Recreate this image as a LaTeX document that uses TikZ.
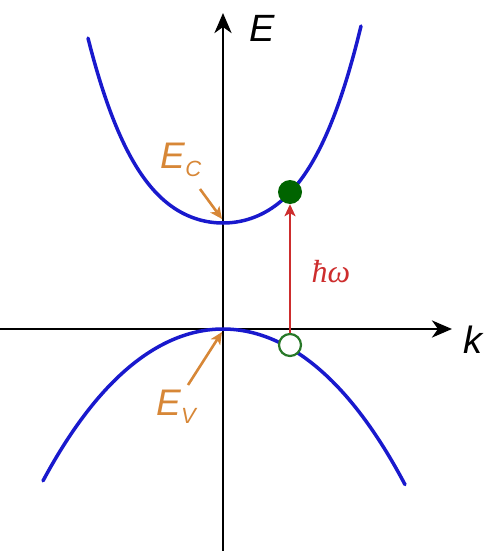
\documentclass[tikz,border=0pt]{standalone}
\usepackage{fontspec}
\setmainfont{Liberation Sans}
\newfontfamily\symfont{Liberation Serif}
\usetikzlibrary{arrows.meta}
\definecolor{bandblue}{RGB}{25,25,205}
\definecolor{lblorange}{RGB}{215,135,55}
\definecolor{photonred}{RGB}{205,45,45}
\definecolor{dkgreen}{RGB}{0,100,0}
\definecolor{ringgreen}{RGB}{40,120,40}
\begin{document}
\begin{tikzpicture}[x=1pt,y=-1pt,
  axis/.style={line width=2.9pt,-{Stealth[length=20pt,width=17pt,inset=6pt]}},
  band/.style={line width=3.5pt,bandblue,line cap=round},
  lbl/.style={font=\itshape\fontsize{38}{38}\selectfont,inner sep=0pt},
  sublbl/.style={font=\itshape\fontsize{37}{37}\selectfont,inner sep=0pt},
  pointer/.style={line width=2.6pt,lblorange,-{Stealth[length=12pt,width=11pt,inset=3pt]}},
  photon/.style={line width=2.2pt,photonred,-{Stealth[length=12pt,width=11pt,inset=3pt]}}]
\useasboundingbox (0,0) rectangle (487,551);
\coordinate (xl) at (0,329);
\coordinate (xr) at (452,329);
\coordinate (yb) at (223,551);
\coordinate (yt) at (223,13);
\draw[axis] (xl) -- (xr);
\draw[axis] (yb) -- (yt);
\node[lbl] (E) at (262,28) {E};
\node[lbl] (k) at (473,340) {k};
% bands
\draw[band] plot[domain=-135:138,samples=120,smooth]
  ({223+\x},{223-(56.6*(\x/100)^2+24.6*(\x/100)^4)});
\draw[band] plot[domain=-180:182,samples=120,smooth]
  ({223+\x},{329+(42*(\x/100)^2+1.5*(\x/100)^4)});
% carriers
\node[circle,fill=dkgreen,minimum size=24pt,inner sep=0pt] (elec) at (290,192) {};
\node[circle,draw=ringgreen,line width=2.2pt,fill=white,minimum size=22pt,inner sep=0pt] (hole) at (290,345) {};
\draw[photon] (hole.north) -- (elec.south);
\node[photonred,font=\symfont\itshape\fontsize{32}{32}\selectfont,inner sep=0pt] (hw) at (331,272) {ħω};
% labels
\node[sublbl,lblorange] (Ec) at (181,160) {E\raisebox{-8pt}{\fontsize{22}{22}\selectfont C}};
\coordinate (ecmin) at (222,219);
\draw[pointer] (200,189) -- (ecmin);
\node[sublbl,lblorange] (Ev) at (176,407) {E\raisebox{-8pt}{\fontsize{22}{22}\selectfont V}};
\coordinate (evmax) at (222,332);
\draw[pointer] (188,385) -- (evmax);
\end{tikzpicture}
\end{document}
